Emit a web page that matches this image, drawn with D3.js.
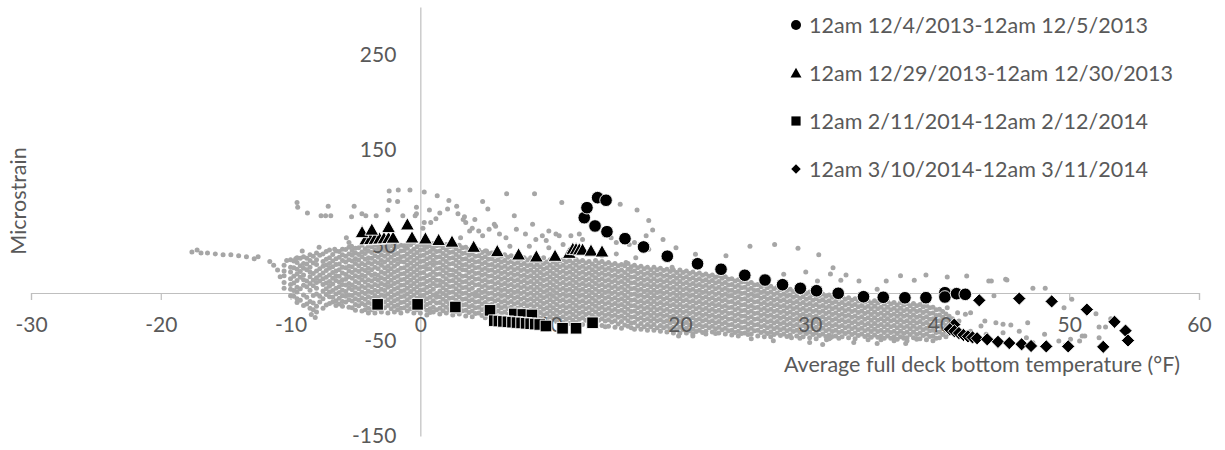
<!DOCTYPE html>
<html><head><meta charset="utf-8">
<script src="https://cdn.jsdelivr.net/npm/d3@7"></script>
<style>
body{margin:0;background:#fff}
svg{display:block}
text{font-family:Lato,"Open Sans",sans-serif;fill:#595959}
</style>
</head><body>
<svg id="chart" width="1225" height="450"></svg>
<script>
// ---------- data ----------
const xTicks = [-30,-20,-10,0,10,20,30,40,50,60];
const yTicks = [-150,-50,50,150,250];
const xTitle = "Average full deck bottom temperature (°F)";
const yTitle = "Microstrain";
const seriesNames = [
  "12am 12/4/2013-12am 12/5/2013",
  "12am 12/29/2013-12am 12/30/2013",
  "12am 2/11/2014-12am 2/12/2014",
  "12am 3/10/2014-12am 3/11/2014"
];
const seriesShapes = ["circle","triangle","square","diamond"];

const dec4 = [[40.42,0.3],[40.42,-4.2],[41.32,-0.7],[41.99,-1.4],[38.96,-4.9],[37.34,-5.0],[35.67,-4.5],[34.15,-3.9],[32.2,-0.3],[30.53,2.4],[29.28,4.9],[27.91,8.7],[26.56,13.6],[25.0,18.6],[23.17,24.9],[21.36,30.7],[19.03,38.6],[17.2,48.3],[15.77,57.0],[14.38,64.3],[13.46,70.3],[12.63,79.0],[12.84,89.5],[13.66,100.0],[14.31,97.3]];
const dec29 = [[-4.2,56.5],[-3.85,56.8],[-3.5,57],[-3.15,57.3],[-2.8,57.6],[-2.45,57.9],[-2.1,58.2],[-4.49,64.0],[-3.74,66.6],[-2.45,69.3],[-1.0,72.1],[-0.64,58.4],[0.39,57.4],[1.41,55.8],[2.44,54.0],[4.11,48.6],[5.93,44.1],[7.57,40.6],[8.94,38.5],[10.38,39.2],[11.48,42.3],[11.75,46.5],[12.0,46.2],[12.25,45.9],[12.5,45.6],[13.15,44.6],[14.0,43.7]];
const feb11 = [[-3.29,-11.9],[-0.21,-11.9],[2.70,-14.7],[5.37,-18.2],[7.24,-22],[7.9,-22.5],[8.6,-23],[5.7,-29],[6.05,-29.4],[6.4,-29.8],[6.75,-30.2],[7.1,-30.6],[7.45,-31],[7.8,-31.4],[8.15,-31.8],[8.5,-32.2],[8.85,-32.6],[9.2,-33],[9.68,-34.6],[10.96,-37.0],[12.0,-37.0],[13.27,-31.2]];
const mar10 = [[41.14,-33.1],[40.8,-38],[41.15,-40],[41.5,-42],[41.85,-44],[42.2,-45.5],[42.55,-46.5],[42.9,-47.5],[43.68,-48.6],[44.51,-51.2],[45.38,-52.5],[46.33,-53.8],[47.06,-55.6],[48.23,-56.0],[49.92,-56.0],[52.62,-56.5],[54.34,-39.5],[54.53,-49.8],[53.49,-30.2],[51.36,-17.4],[48.65,-8.8],[46.15,-5.8],[43.07,-7.7]];

// all other hours: dense band, read column by column (x, list of y)
const backgroundColumns = [
[-10.5,[29,23,18,11,5]],
[-10,[35,27,22,15,9,4,-3]],
[-9.5,[37,32,25,20,13,6,1,-6,-10]],
[-9,[38,31,26,19,14,8,-2,-13]],
[-8.5,[40,34,27,22,17,10,3,-9,-16]],
[-8,[42,35,30,23,16,11,5,-1,-14,-20]],
[-7.5,[41,33,28,21,15,9,2,-6,-16]],
[-7,[45,37,31,26,19,12,7,1,-4,-11]],
[-6.5,[44,36,30,23,18,13,5,-1,-8,-13]],
[-6,[46,40,34,27,21,14,9,3,-3,-9,-14]],
[-5.5,[48,41,35,28,23,17,10,5,-2,-7,-15]],
[-5,[47,42,36,31,24,18,12,6,0,-6,-12,-18]],
[-4.5,[50,43,38,31,25,19,14,7,1,-5,-11,-19]],
[-4,[49,44,37,32,26,21,14,8,2,-4,-10,-16,-21]],
[-3.5,[50,45,39,33,27,20,15,9,3,-3,-9,-15,-21]],
[-3,[52,46,40,34,29,22,16,10,4,-2,-8,-14,-20]],
[-2.5,[51,47,41,35,28,23,17,11,6,-1,-7,-13,-21]],
[-2,[52,46,40,34,28,22,16,10,4,-2,-8,-14,-20]],
[-1.5,[50,44,38,33,26,20,14,8,2,-4,-10,-16,-21]],
[-1,[52,47,41,35,29,23,17,11,5,-1,-7,-13,-19]],
[-0.5,[53,46,40,34,28,22,16,10,4,-2,-8,-14,-21]],
[0,[51,45,39,33,27,21,15,9,3,-3,-9,-15,-21]],
[0.5,[53,48,42,36,30,25,18,12,6,0,-6,-12,-18,-23]],
[1,[52,46,40,34,29,22,16,10,4,-2,-8,-15,-20]],
[1.5,[50,44,38,32,26,20,13,8,2,-4,-10,-16,-22]],
[2,[51,45,39,33,27,21,15,9,3,-3,-9,-15,-21]],
[2.5,[49,43,37,31,24,19,13,7,1,-5,-11,-17,-23]],
[3,[50,44,38,32,26,20,14,8,2,-4,-10,-16,-22]],
[3.5,[48,42,36,30,24,18,12,6,0,-6,-12,-18,-24]],
[4,[47,41,35,29,23,17,11,5,-1,-7,-13,-19,-25]],
[4.5,[45,39,33,27,21,15,9,3,-3,-9,-15,-21]],
[5,[44,38,32,26,20,14,8,2,-4,-10,-16,-22,-26]],
[5.5,[42,36,30,24,18,12,6,0,-6,-12,-18,-24]],
[6,[41,35,29,23,17,11,5,-1,-7,-13,-19,-25]],
[6.5,[40,34,28,22,16,10,4,-2,-8,-14,-20,-26]],
[7,[39,33,27,21,15,9,3,-3,-9,-15,-21,-27]],
[7.5,[38,32,26,20,14,8,2,-4,-10,-16,-22]],
[8,[37,31,25,19,13,7,1,-5,-11,-17,-23,-28]],
[8.5,[37,30,24,18,12,6,0,-6,-12,-18,-24]],
[9,[36,30,24,18,12,6,0,-6,-12,-18,-24,-30]],
[9.5,[37,31,25,19,13,7,1,-5,-11,-17,-23,-29]],
[10,[35,29,23,17,11,5,-1,-7,-13,-19,-25,-31]],
[10.5,[36,30,24,18,12,6,0,-6,-12,-18,-24,-30]],
[11,[35,29,23,17,11,5,-1,-7,-13,-19,-25,-31]],
[11.5,[34,28,22,16,10,4,-2,-8,-14,-20,-26,-32]],
[12,[35,29,23,17,11,5,-1,-7,-13,-19,-25,-31]],
[12.5,[34,28,22,16,10,4,-2,-8,-14,-20,-26,-33]],
[13,[33,27,21,15,9,3,-3,-9,-15,-21,-27,-33]],
[13.5,[34,28,22,16,10,4,-2,-8,-14,-20,-26,-32]],
[14,[33,27,21,15,9,3,-3,-9,-15,-21,-27,-34]],
[14.5,[32,26,20,14,8,2,-4,-10,-16,-22,-28,-35]],
[15,[31,25,19,13,7,1,-5,-11,-17,-23,-29,-36]],
[15.5,[30,24,18,12,6,0,-6,-12,-18,-24,-30,-37]],
[16,[31,25,19,13,7,1,-5,-11,-17,-23,-29,-35]],
[16.5,[29,23,17,11,5,-1,-7,-13,-19,-25,-31,-38]],
[17,[28,22,16,10,4,-2,-8,-14,-20,-26,-32,-38]],
[17.5,[27,21,15,9,3,-3,-9,-15,-21,-27,-33,-39]],
[18,[27,21,15,9,3,-3,-9,-15,-21,-27,-33,-39]],
[18.5,[26,20,14,8,2,-4,-10,-16,-22,-28,-34,-40]],
[19,[25,19,13,7,1,-5,-11,-17,-23,-29,-35,-41]],
[19.5,[24,18,12,6,0,-6,-12,-18,-24,-30,-36,-42]],
[20,[24,18,12,6,0,-6,-12,-18,-24,-30,-36,-42]],
[20.5,[23,17,11,5,-1,-7,-13,-19,-25,-31,-37,-42]],
[21,[22,16,10,4,-2,-8,-14,-20,-26,-32,-38,-43]],
[21.5,[21,15,9,3,-3,-9,-15,-21,-27,-33,-39]],
[22,[20,14,8,2,-4,-10,-16,-22,-28,-34,-40,-43]],
[22.5,[19,13,7,1,-5,-11,-17,-23,-29,-35,-41]],
[23,[18,12,6,0,-6,-12,-18,-24,-30,-36,-42]],
[23.5,[17,11,5,-1,-7,-13,-19,-25,-31,-37,-43]],
[24,[15,9,3,-3,-9,-15,-21,-27,-33,-39,-44]],
[24.5,[14,8,2,-4,-10,-16,-22,-28,-34,-40,-45]],
[25,[12,6,0,-6,-12,-18,-24,-30,-36,-42]],
[25.5,[11,5,-1,-7,-13,-19,-25,-31,-37,-43]],
[26,[9,3,-3,-9,-15,-21,-27,-33,-39,-45]],
[26.5,[8,2,-4,-10,-16,-22,-28,-34,-40,-46]],
[27,[7,1,-5,-11,-17,-23,-29,-35,-41,-46]],
[27.5,[6,0,-6,-12,-18,-24,-30,-36,-42]],
[28,[5,-1,-7,-13,-19,-25,-31,-37,-43]],
[28.5,[4,-2,-8,-14,-20,-26,-32,-38,-44]],
[29,[3,-3,-9,-15,-21,-27,-33,-39,-45]],
[29.5,[2,-4,-10,-16,-22,-28,-34,-40,-46]],
[30,[1,-5,-11,-17,-23,-29,-35,-41,-47]],
[30.5,[0,-6,-12,-18,-24,-30,-36,-42,-48]],
[31,[-1,-7,-13,-19,-25,-31,-37,-43]],
[31.5,[-2,-8,-14,-20,-26,-32,-38,-44,-48]],
[32,[-3,-9,-15,-21,-27,-33,-39,-45]],
[32.5,[-4,-10,-16,-22,-28,-34,-40,-46]],
[33,[-5,-11,-17,-23,-29,-35,-41,-47]],
[33.5,[-6,-12,-18,-24,-30,-36,-42,-48]],
[34,[-7,-13,-19,-25,-31,-37,-43]],
[34.5,[-8,-14,-20,-26,-32,-38,-44,-49]],
[35,[-8,-14,-20,-26,-32,-38,-44]],
[35.5,[-9,-15,-21,-27,-33,-39,-45,-49]],
[36,[-9,-15,-21,-27,-33,-39,-45]],
[36.5,[-10,-16,-22,-28,-34,-40,-46,-50]],
[37,[-10,-16,-22,-28,-34,-40,-46]],
[37.5,[-11,-17,-23,-29,-35,-41,-47,-50]],
[38,[-11,-17,-23,-29,-35,-41,-47]],
[38.5,[-12,-18,-24,-30,-36,-42,-48]],
[39,[-13,-19,-25,-31,-37,-43,-49]],
[39.5,[-15,-21,-27,-33,-39,-45,-50]],
[40,[-17,-23,-29,-35,-41,-47]],
[40.5,[-22,-28,-34,-40,-46]],
[41,[-27,-33,-39]]
];
// second pass of the band, between the columns above
const backgroundColumnsMid = [
[-9.75,[33,26,17,10,2,-4]],
[-9.25,[36,28,22,16,4,-8]],
[-8.75,[36,30,24,12,6,-5,-12]],
[-8.25,[38,31,20,13,7,-3,-11,-18]],
[-7.75,[39,25,18,12,-4,-10]],
[-7.25,[43,35,29,23,16,10,4,-2,-13]],
[-6.75,[40,33,27,21,15,9,2,-5,-10]],
[-6.25,[43,37,30,24,17,11,6,0,-6,-12]],
[-5.75,[45,38,32,26,19,14,8,1,-4,-10]],
[-5.25,[44,39,33,27,21,15,8,3,-3,-9,-16]],
[-4.75,[47,40,34,28,22,16,10,4,-2,-8,-14]],
[-4.25,[46,41,35,29,23,17,11,5,-1,-7,-13,-18]],
[-3.75,[48,42,36,30,24,18,12,6,0,-6,-12,-18]],
[-3.25,[49,43,37,31,25,18,13,7,1,-5,-11,-17]],
[-2.75,[49,44,38,32,26,20,14,8,2,-4,-10,-16]],
[-2.25,[49,43,37,31,25,19,13,7,1,-5,-11,-17]],
[-1.75,[48,41,35,30,23,17,11,5,-1,-7,-13,-18]],
[-1.25,[49,44,38,32,26,20,14,8,2,-4,-10,-16]],
[-0.75,[50,43,37,31,25,19,13,7,1,-5,-11,-17]],
[-0.25,[48,42,36,30,24,18,12,6,0,-6,-12,-18]],
[0.25,[50,45,39,33,27,21,15,9,3,-3,-9,-15]],
[0.75,[49,43,37,31,25,19,13,7,1,-5,-11,-17,-21]],
[1.25,[49,43,37,31,25,19,13,7,-1,-5,-11,-18]],
[1.75,[47,41,35,29,23,17,11,5,-1,-7,-13,-19]],
[2.25,[48,42,36,30,24,18,12,6,0,-6,-12,-18]],
[2.75,[46,40,34,28,22,16,10,4,-2,-8,-14,-20]],
[3.25,[47,41,35,29,24,17,11,5,-1,-7,-13,-19]],
[3.75,[45,39,33,27,21,15,9,3,-3,-9,-15,-21]],
[4.25,[44,38,32,26,20,14,8,0,-4,-10,-16,-22]],
[4.75,[42,36,30,24,18,12,6,0,-6,-12,-18,-24]],
[5.25,[41,35,29,23,17,11,5,-1,-7,-13,-19]],
[5.75,[39,33,27,21,15,9,3,-3,-9,-15,-21]],
[6.25,[38,32,26,20,14,8,2,-4,-10,-16,-22]],
[6.75,[37,31,25,19,13,7,1,-5,-11,-17,-23]],
[7.25,[36,30,24,18,12,6,0,-6,-12,-18,-24]],
[7.75,[35,29,23,17,11,5,-1,-7,-13,-19,-25]],
[8.25,[34,28,22,16,10,4,-2,-8,-14,-20,-26]],
[8.75,[33,27,21,15,9,3,-3,-9,-15,-21,-27]],
[9.25,[33,27,21,15,9,3,-3,-9,-15,-21,-27]],
[9.75,[32,26,20,14,8,2,-4,-10,-16,-22,-28]],
[10.25,[32,26,20,14,8,2,-4,-10,-16,-22,-28]],
[10.75,[33,27,21,15,9,3,-3,-9,-15,-21,-27]],
[11.25,[32,26,20,14,8,2,-4,-10,-16,-22,-28]],
[11.75,[31,25,19,13,7,1,-5,-11,-17,-23,-29]],
[12.25,[32,26,20,14,8,2,-4,-10,-16,-22,-28]],
[12.75,[31,25,19,13,7,1,-5,-11,-17,-23,-29]],
[13.25,[30,24,18,12,6,0,-6,-12,-18,-24,-30]],
[13.75,[31,25,19,13,7,1,-5,-11,-17,-23,-29]],
[14.25,[30,24,18,12,6,0,-6,-12,-18,-24,-30,-36]],
[14.75,[29,23,17,11,5,-1,-7,-13,-19,-25,-31]],
[15.25,[28,22,16,10,4,-2,-8,-14,-20,-26,-33]],
[15.75,[28,21,15,9,3,-3,-9,-15,-21,-27,-34]],
[16.25,[27,22,16,10,4,-2,-8,-14,-20,-26,-32,-37]],
[16.75,[26,20,14,8,2,-4,-10,-16,-22,-28,-35]],
[17.25,[25,19,13,7,1,-5,-11,-17,-23,-29,-36]],
[17.75,[24,18,12,6,0,-6,-12,-18,-24,-30,-36]],
[18.25,[24,18,12,6,0,-6,-12,-18,-24,-30,-37]],
[18.75,[23,17,11,5,-1,-7,-13,-19,-25,-31,-37]],
[19.25,[22,16,10,4,-2,-8,-14,-20,-26,-32,-38]],
[19.75,[21,15,9,3,-3,-9,-15,-21,-27,-33,-39]],
[20.25,[21,15,9,3,-3,-9,-15,-21,-27,-33,-39]],
[20.75,[20,14,8,2,-4,-10,-16,-22,-28,-34,-40]],
[21.25,[19,13,7,1,-5,-11,-17,-23,-29,-35,-41]],
[21.75,[18,12,6,0,-6,-12,-18,-24,-30,-36,-42]],
[22.25,[17,11,5,-1,-7,-13,-19,-25,-31,-37]],
[22.75,[16,10,4,-2,-8,-14,-20,-26,-32,-38,-43]],
[23.25,[15,9,3,-3,-9,-15,-21,-27,-33,-39]],
[23.75,[14,8,2,-4,-10,-16,-22,-28,-34,-40]],
[24.25,[12,6,0,-6,-12,-18,-24,-30,-36,-42]],
[24.75,[11,5,-1,-7,-13,-19,-25,-31,-37,-43]],
[25.25,[9,3,-3,-9,-15,-21,-27,-33,-39,-44]],
[25.75,[8,2,-4,-10,-16,-22,-28,-34,-40]],
[26.25,[6,0,-6,-12,-18,-24,-30,-36,-42]],
[26.75,[5,-1,-7,-13,-19,-25,-31,-37,-43]],
[27.25,[4,-2,-8,-14,-20,-26,-32,-38,-44]],
[27.75,[3,-3,-9,-15,-21,-27,-33,-39,-45]],
[28.25,[2,-4,-10,-16,-22,-28,-34,-40,-46]],
[28.75,[1,-5,-11,-17,-23,-29,-35,-41]],
[29.25,[0,-6,-12,-18,-24,-30,-36,-42,-48]],
[29.75,[-1,-7,-13,-19,-25,-31,-37,-43]],
[30.25,[-2,-8,-14,-20,-26,-32,-38,-44]],
[30.75,[-3,-9,-15,-21,-27,-33,-39,-45]],
[31.25,[-4,-10,-16,-22,-28,-34,-40,-46]],
[31.75,[-5,-11,-17,-23,-29,-35,-41,-46]],
[32.25,[-6,-12,-18,-24,-30,-36,-42,-48]],
[32.75,[-7,-13,-19,-25,-31,-37,-43]],
[33.25,[-8,-14,-20,-26,-32,-38,-44]],
[33.75,[-9,-15,-21,-27,-33,-39,-45]],
[34.25,[-10,-16,-22,-28,-34,-40,-46]],
[34.75,[-11,-17,-23,-29,-35,-41,-47]],
[35.25,[-11,-17,-23,-29,-35,-41,-47]],
[35.75,[-12,-18,-24,-30,-36,-42,-48]],
[36.25,[-12,-18,-24,-30,-36,-42,-48]],
[36.75,[-13,-19,-25,-31,-37,-43,-49]],
[37.25,[-13,-19,-25,-31,-37,-43,-48]],
[37.75,[-14,-20,-26,-32,-38,-44]],
[38.25,[-14,-20,-26,-32,-38,-44,-49]],
[38.75,[-15,-21,-27,-33,-39,-45]],
[39.25,[-16,-22,-28,-34,-40,-46]],
[39.75,[-18,-24,-30,-36,-42,-48]],
[40.25,[-20,-26,-32,-38,-44]],
[40.75,[-25,-31,-37,-43]]
];
// scattered hours outside the band
const backgroundScatter = [
[-17.6,43],[-17.2,45],[-16.9,42],[-16.4,42],[-15.8,41],[-15.2,40],[-14.6,40],[-14.0,39],[-13.4,38],[-12.8,36],[-12.5,38],[-11.6,33],[-11.3,29],[-11,24],[-10.8,17],
[-9.5,95],[-9.45,90],[-8.7,84],[-7.65,81],[-7.3,81],[-6.9,81],[-7.1,91],[-5.3,80],[-5.1,91],[-4.5,83],[-4.2,81],[-3.4,81],[-2.5,87],[-2.4,107],[-1.7,108],[-0.8,108],[-1.75,96],[-2.4,97],[-1.35,81],[-0.3,90],[-0.4,81],[0.3,106],[1.3,102],[2.2,97],[4.8,96],[5.2,88],[0.7,87],[1.5,84],[2.1,88],[2.8,91],[2.9,83],[3.3,77],[3.5,74],[4.0,68],[4.5,65],[5.3,67],[5.7,72],[0.3,74],[0.8,74],[1.2,78],[0.2,68],[-0.3,83],[-5.7,58],[-5.5,53],[-9.1,44],[-7.8,48],[-6.6,46],[-5.3,49],[-3.2,46],[-10.3,34],[-9.6,36],[-8.4,-22.6],[-8.1,-25.8],
[6.65,104],[8.8,104],[10.9,95],[7.24,81],[8.65,72],[5.8,70],[4.2,77],[3.4,80],[9.9,65],[10.7,60],[11.6,60],[12.25,62],[15.4,93],[16.7,87],[17.6,76],[17.9,66],[17.4,60],[16.5,53],[15.1,53],[17.6,46],[18.7,56],[19.7,47.5],[21.2,40.6],[7.4,67],[8.1,62],[3.8,65],[6.1,62],[8.9,56],[9.7,55],[4.8,60],[3.1,58],[6.6,58],[9.4,60],[10.45,62],[12.5,56],[14.7,58],[16.1,51],[6.9,49],[8.4,49],[9.9,47.5],[11.0,51],[12.0,35],[14.0,39],[15.1,41],[15.85,32],[16.6,37],[0.95,47.5],[5.1,44],
[23.55,39],[25.4,49],[27.3,51],[29.1,47],[30.7,40],[31.8,26.5],[31.6,20],[29.7,22],[28.0,19.6],[32.8,19],[33.8,12.6],[30.6,12.6],[32.4,13.3],[35.2,4],[35.9,12.6],[37.0,18],[19.4,27],[38.06,13.3],[38.96,18.9],[40.6,16.8],[42.1,17.8],[43.8,12.6],[45.1,14.4],[47.2,4.9],[48.15,4.9],[44.2,-3],[49.6,-15.4],[50.2,-6.6],[52.06,-21.7],[52.3,-35.7],[52.8,-35.7],[51.0,-45.1],[50.1,-48.6],[49.2,-50.4],[48.1,-43.3],[47.2,-52.2],[46.8,-31.2],[45.5,-33.6],[44.9,-32.8],[44.35,-31.2],[43.5,-29.4],[43.2,-34.6],[43.6,-43.3],[41.4,-20.7],[40.6,-15.4],[42.1,-41.7],[44.9,-41.7],[49.7,-54.6],[50.8,-50.4],[46.15,-40],[42.4,-20.7],[42.0,-22.4],[41.5,-29.4],[42.4,-40],[46.7,-47],[51.2,-45],[52.3,-47],[53.2,-27],[44,12.6],[45.2,13.6],
[28.6,-47],[30.0,-52],[31.0,-54],[31.6,-47],[19.9,-45],[21.0,-45],[31.3,-49],[27.2,-50],[25.5,-48],[33.4,-52],[35.2,-53],[37.4,-53]
];

// ---------- drawing ----------
const svg = d3.select("#chart");
const x = d3.scaleLinear().domain([-30,60]).range([31,1199]);
const y = d3.scaleLinear().domain([-150,300]).range([436,7]);
const axisColor = "#bfbfbf";
const grey = "#a6a6a6";
const fmt = d => String(d);

// axis lines (below the points)
const gxLine = svg.append("g").attr("transform",`translate(0,${y(0)})`)
  .call(d3.axisBottom(x).tickValues(xTicks).tickSize(7).tickFormat(""));
gxLine.selectAll("path,line").attr("stroke",axisColor).attr("stroke-width",1.2);
gxLine.selectAll("text").remove();
const gyLine = svg.append("g").attr("transform",`translate(${x(0)},0)`)
  .call(d3.axisLeft(y).tickValues(yTicks).tickSize(0).tickFormat(""));
gyLine.selectAll("path,line").attr("stroke",axisColor).attr("stroke-width",1.2);
gyLine.selectAll("text").remove();

// background points
const bgPoints = [];
backgroundColumns.forEach(([cx, ys]) => ys.forEach(v => bgPoints.push([cx, v])));
backgroundColumnsMid.forEach(([cx, ys]) => ys.forEach(v => bgPoints.push([cx, v + 0.5])));
backgroundScatter.forEach(p => bgPoints.push(p));
svg.append("g").selectAll("circle").data(bgPoints).join("circle")
  .attr("cx", d => x(d[0])).attr("cy", d => y(d[1])).attr("r", 2.5).attr("fill", grey);

// axis labels (above grey points, below black markers)
const gxText = svg.append("g").attr("transform",`translate(0,${y(0)})`)
  .call(d3.axisBottom(x).tickValues(xTicks).tickSize(7).tickPadding(17).tickFormat(fmt));
gxText.select(".domain").remove();
gxText.selectAll("line").remove();
gxText.selectAll("text").attr("font-size",21).attr("fill","#595959").attr("font-family","Lato, sans-serif");
const gyText = svg.append("g").attr("transform",`translate(${x(0)},0)`)
  .call(d3.axisLeft(y).tickValues(yTicks).tickSize(0).tickPadding(24).tickFormat(fmt));
gyText.select(".domain").remove();
gyText.selectAll("line").remove();
gyText.selectAll("text").attr("font-size",21).attr("fill","#595959").attr("font-family","Lato, sans-serif");

// marker shapes
function markerPath(shape, s) {
  switch (shape) {
    case "circle": return `M${s},0A${s},${s} 0 1,1 ${-s},0A${s},${s} 0 1,1 ${s},0Z`;
    case "triangle": return `M0,${-s*1.05}L${s*1.1},${s*0.9}L${-s*1.1},${s*0.9}Z`;
    case "square": return `M${-s*0.92},${-s*0.92}H${s*0.92}V${s*0.92}H${-s*0.92}Z`;
    case "diamond": return `M0,${-s*1.05}L${s*1.05},0L0,${s*1.05}L${-s*1.05},0Z`;
  }
}
const seriesData = [dec4, dec29, feb11, mar10];
seriesData.forEach((data, i) => {
  svg.append("g").selectAll("path").data(data).join("path")
    .attr("d", markerPath(seriesShapes[i], 6.3))
    .attr("transform", d => `translate(${x(d[0])},${y(d[1])})`)
    .attr("fill", "#000").attr("stroke", "#fff").attr("stroke-width", 0.9);
});

// legend
const legendY = [25, 73, 121, 169];
const lg = svg.append("g");
seriesNames.forEach((name, i) => {
  lg.append("path").attr("d", markerPath(seriesShapes[i], i === 3 ? 4.5 : 5))
    .attr("transform", `translate(796,${legendY[i]})`).attr("fill", "#000");
  lg.append("text").attr("x", 809).attr("y", legendY[i]).attr("dy", "0.36em")
    .attr("font-size", 21.5).text(name);
});

// titles
svg.append("text").attr("x", 982).attr("y", 372).attr("text-anchor", "middle")
  .attr("font-size", 21.5).text(xTitle);
svg.append("text").attr("transform", "translate(26,201) rotate(-90)")
  .attr("text-anchor", "middle").attr("font-size", 21.5).text(yTitle);
</script>
</body></html>
